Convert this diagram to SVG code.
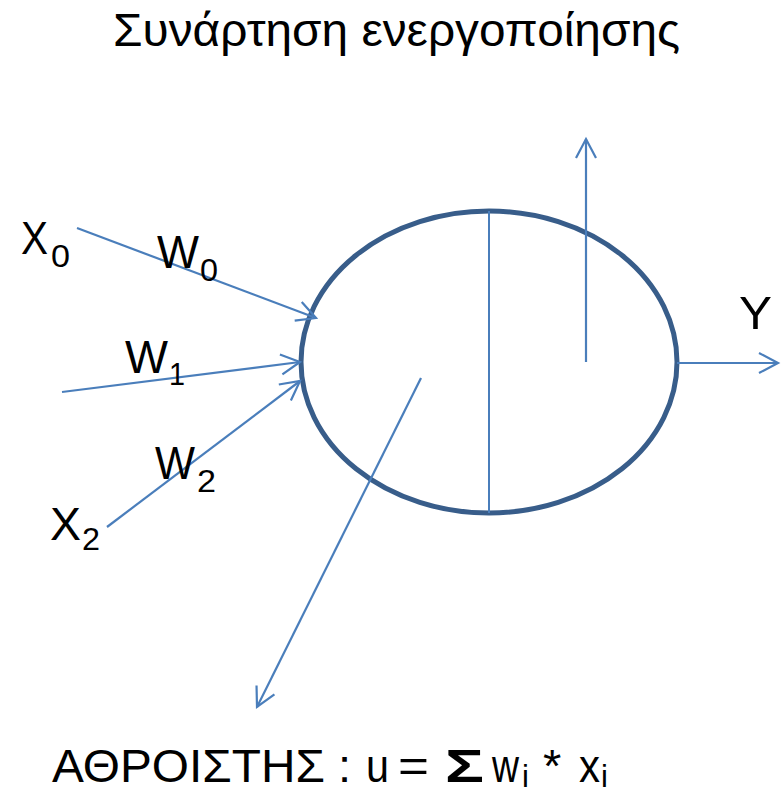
<svg xmlns="http://www.w3.org/2000/svg" width="784" height="793" viewBox="0 0 784 793">
<style>
  text { font-family: "Liberation Sans", Arial, sans-serif; fill: #000; }
  .big { font-size: 47px; }
  .sub { font-size: 31px; }
  .conn { stroke: #4a7ebb; stroke-width: 2.2; fill: none; }
  .node { stroke: #385d8a; stroke-width: 5; fill: #fff; }
</style>
<defs>
  <marker id="arr" markerUnits="userSpaceOnUse" markerWidth="30" markerHeight="30" viewBox="-25 -15 30 30" refX="0" refY="0" orient="auto">
    <path d="M-19,-10 L0,0 L-19,10" fill="none" stroke="#4a7ebb" stroke-width="2.2"/>
  </marker>
</defs>
<rect width="784" height="793" fill="#fff"/>
<text id="title" class="big" x="113" y="46" textLength="567" lengthAdjust="spacingAndGlyphs">Συνάρτηση ενεργοποίησης</text>

<g id="neuron">
  <ellipse class="node" cx="489" cy="362" rx="188" ry="151"/>
  <line x1="489" y1="211" x2="489" y2="513" stroke="#4a7ebb" stroke-width="2"/>
</g>

<g id="connectors">
  <line class="conn" x1="77" y1="228" x2="316" y2="318" marker-end="url(#arr)"/>
  <line class="conn" x1="62" y1="392" x2="300" y2="362" marker-end="url(#arr)"/>
  <line class="conn" x1="107" y1="527" x2="300" y2="381" marker-end="url(#arr)"/>
  <line class="conn" x1="586" y1="362" x2="586" y2="139" marker-end="url(#arr)"/>
  <line class="conn" x1="677" y1="363" x2="778" y2="363" marker-end="url(#arr)"/>
  <line class="conn" x1="421" y1="378" x2="257" y2="707" marker-end="url(#arr)"/>
</g>

<g id="x0"><text class="big" x="21" y="254" textLength="27" lengthAdjust="spacingAndGlyphs">X</text><text class="sub" x="51" y="267" textLength="19" lengthAdjust="spacingAndGlyphs">0</text></g>
<g id="w0"><text class="big" x="157" y="268" textLength="42" lengthAdjust="spacingAndGlyphs">W</text><text class="sub" x="200" y="281" textLength="18" lengthAdjust="spacingAndGlyphs">0</text></g>
<g id="w1"><text class="big" x="125" y="373" textLength="43" lengthAdjust="spacingAndGlyphs">W</text><text class="sub" x="169" y="385" textLength="16" lengthAdjust="spacingAndGlyphs">1</text></g>
<g id="w2"><text class="big" x="155" y="479" textLength="40" lengthAdjust="spacingAndGlyphs">W</text><text class="sub" x="197" y="492" textLength="19" lengthAdjust="spacingAndGlyphs">2</text></g>
<g id="x2"><text class="big" x="50" y="540" textLength="31" lengthAdjust="spacingAndGlyphs">X</text><text class="sub" x="82" y="550" textLength="18" lengthAdjust="spacingAndGlyphs">2</text></g>
<g id="y"><text class="big" x="739" y="329" textLength="33" lengthAdjust="spacingAndGlyphs">Y</text></g>

<g id="summation">
  <text class="big" x="52" y="782" textLength="273" lengthAdjust="spacingAndGlyphs">ΑΘΡΟΙΣΤΗΣ</text>
  <text class="big" x="338" y="782">:</text>
  <text class="big" x="366" y="782" textLength="23" lengthAdjust="spacingAndGlyphs">u</text>
  <text class="big" x="398" y="782" textLength="31" lengthAdjust="spacingAndGlyphs">=</text>
  <text class="big" x="445" y="782" font-weight="bold" textLength="39" lengthAdjust="spacingAndGlyphs">Σ</text>
  <text class="big" x="492" y="782"><tspan textLength="27" lengthAdjust="spacingAndGlyphs">w</tspan><tspan class="sub" x="522" y="787">i</tspan></text>
  <text class="big" x="543" y="782">*</text>
  <text class="big" x="579" y="782"><tspan textLength="21" lengthAdjust="spacingAndGlyphs">x</tspan><tspan class="sub" x="601" y="787">i</tspan></text>
</g>
</svg>
